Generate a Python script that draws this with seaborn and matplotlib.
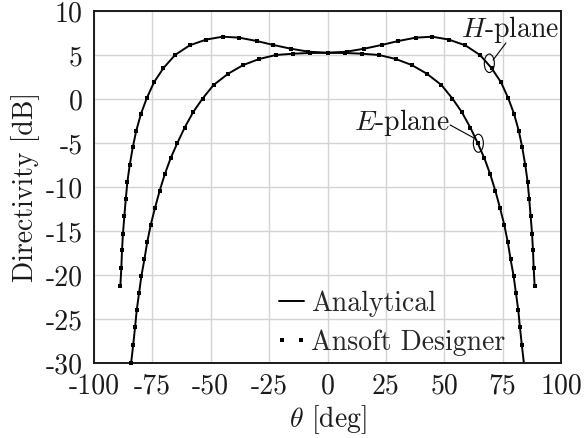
import matplotlib
matplotlib.use("Agg")
import matplotlib.pyplot as plt
import seaborn as sns
import numpy as np
from matplotlib.lines import Line2D
from matplotlib.patches import Ellipse
from matplotlib.legend_handler import HandlerLine2D

# ---- data ----
h_theta = [-88.7, -88.3, -88.0, -87.6, -87.0, -86.4, -85.7, -84.7, -83.4, -81.9,
           -79.9, -77.4, -74.3, -70.3, -65.3, -59.0, -52.0, -44.9, -37.8, -30.3,
           -23.2, -15.8, -8.2, 0.0,
           8.2, 15.8, 23.2, 30.3, 37.8, 44.9, 52.0, 59.0, 65.3, 70.3,
           74.3, 77.4, 79.9, 81.9, 83.4, 84.7, 85.7, 86.4, 87.0, 87.6,
           88.0, 88.3, 88.7]
h_dir = [-21.2, -19.2, -17.2, -15.3, -13.3, -11.4, -9.4, -7.5, -5.5, -3.6,
         -1.7, 0.1, 1.9, 3.5, 5.0, 6.1, 6.75, 7.08, 6.97, 6.59,
         6.14, 5.72, 5.38, 5.25,
         5.38, 5.72, 6.14, 6.59, 6.97, 7.08, 6.75, 6.1, 5.0, 3.5,
         1.9, 0.1, -1.7, -3.6, -5.5, -7.5, -9.4, -11.4, -13.3, -15.3,
         -17.2, -19.2, -21.2]

e_theta = [-84.1, -83.2, -82.4, -81.7, -80.7, -79.7, -78.4, -77.2, -75.7, -73.9,
           -71.9, -69.7, -67.2, -64.3, -61.2, -57.5, -53.5, -48.8, -42.5, -36.1,
           -29.2, -22.1, -14.6, -7.3, 0.0,
           7.3, 14.6, 22.1, 29.2, 36.1, 42.5, 48.8, 53.5, 57.5, 61.2,
           64.3, 67.2, 69.7, 71.9, 73.9, 75.7, 77.2, 78.4, 79.7, 80.7,
           81.7, 82.4, 83.2, 84.1]
e_dir = [-30.0, -27.9, -25.9, -24.0, -22.05, -20.1, -18.2, -16.25, -14.3, -12.4,
         -10.45, -8.56, -6.74, -5.0, -3.26, -1.48, 0.05, 1.59, 2.88, 3.86,
         4.55, 5.0, 5.15, 5.23, 5.25,
         5.23, 5.15, 5.0, 4.55, 3.86, 2.88, 1.59, 0.05, -1.48, -3.26,
         -5.0, -6.74, -8.56, -10.45, -12.4, -14.3, -16.25, -18.2, -20.1, -22.05,
         -24.0, -25.9, -27.9, -30.0]

xticks = [-100, -75, -50, -25, 0, 25, 50, 75, 100]
xtick_labels = ["-100", "-75", "-50", "-25", "0", "25", "50", "75", "100"]
yticks = [-30, -25, -20, -15, -10, -5, 0, 5, 10]
ytick_labels = ["-30", "-25", "-20", "-15", "-10", "-5", "0", "5", "10"]

# ---- style ----
sns.set_style("whitegrid")
plt.rcParams["font.family"] = ["cmr10"]
plt.rcParams["mathtext.fontset"] = "cm"
plt.rcParams["axes.formatter.use_mathtext"] = True
plt.rcParams["axes.unicode_minus"] = False
FS = 20
INK = "#1a1a1a"
MS = 3.2

fig = plt.figure(figsize=(5.84, 4.38), dpi=100)
ax = fig.add_axes([94 / 584, 1 - 363 / 438, 467 / 584, 352 / 438])

for th, d in [(h_theta, h_dir), (e_theta, e_dir)]:
    sns.lineplot(x=th, y=d, ax=ax, color="k", lw=1.4, sort=False,
                 estimator=None, legend=False)
    sns.lineplot(x=th, y=d, ax=ax, color="k", sort=False, estimator=None,
                 legend=False, linestyle="none", marker="s", markersize=MS,
                 markeredgecolor="k", markeredgewidth=0, markevery=0.0297,
                 clip_on=False, zorder=3)

ax.set_xlim(-100, 100)
ax.set_ylim(-30, 10)
ax.set_xticks(xticks, labels=xtick_labels)
ax.set_yticks(yticks, labels=ytick_labels)
ax.tick_params(axis="both", length=0, labelsize=FS, colors=INK)
ax.tick_params(axis="x", pad=7)
ax.tick_params(axis="y", pad=8)
ax.grid(True, color="#d4d4d4", lw=1.0)
for s in ax.spines.values():
    s.set_color(INK)
    s.set_linewidth(1.4)
    s.set_visible(True)

ax.set_xlabel(r"$\theta$ [deg]", fontsize=FS, labelpad=3, color=INK)
ax.set_ylabel("Directivity [dB]", fontsize=FS, labelpad=4, color=INK)

# annotations
ax.add_patch(Ellipse((69.3, 4.06), 4.3, 2.1, fill=False, ec="k", lw=0.8, zorder=4))
ax.add_patch(Ellipse((64.6, -5.03), 4.3, 2.05, fill=False, ec="k", lw=0.8, zorder=4))
ax.annotate("", xy=(70.9, 4.43), xytext=(76.4, 6.36),
            arrowprops=dict(arrowstyle="-", lw=0.8, color="k", shrinkA=0, shrinkB=0))
ax.annotate("", xy=(62.7, -4.43), xytext=(52.5, -2.95),
            arrowprops=dict(arrowstyle="-", lw=0.8, color="k", shrinkA=0, shrinkB=0))
ax.text(57.3, 7.05, r"$H$-plane", fontsize=FS, ha="left", va="baseline", color=INK)
ax.text(11.2, -3.52, r"$E$-plane", fontsize=FS, ha="left", va="baseline", color=INK)

h_line = Line2D([], [], color="k", lw=1.4)
h_mark = Line2D([], [], color="k", linestyle="none", marker="s", markersize=MS,
                markeredgewidth=0)
ax.legend([h_line, h_mark], ["Analytical", "Ansoft Designer"], loc="lower left",
          bbox_to_anchor=(279 / 584, 1 - 356 / 438), bbox_transform=fig.transFigure,
          frameon=False, fontsize=FS, handlelength=0.9,
          handletextpad=0.25, labelspacing=0.46, borderpad=0, borderaxespad=0,
          handler_map={h_line: HandlerLine2D(numpoints=1),
                       h_mark: HandlerLine2D(numpoints=2, marker_pad=0.12)})

fig.savefig("out.png", dpi=100)
